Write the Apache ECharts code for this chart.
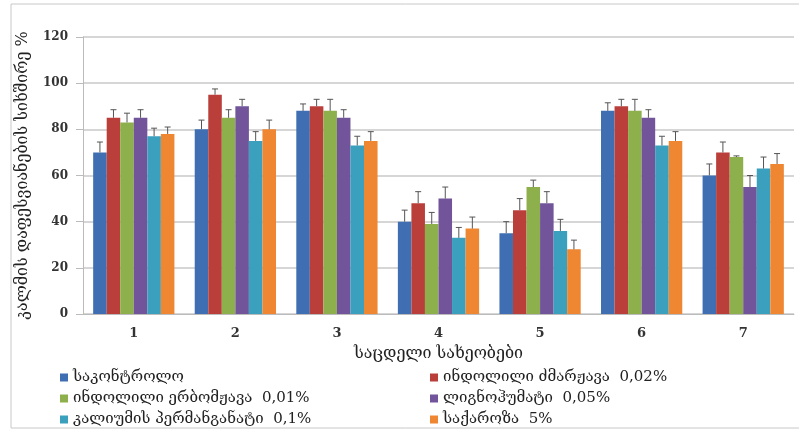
<!DOCTYPE html>
<html><head><meta charset="utf-8">
<script src="https://cdn.jsdelivr.net/npm/echarts@6/dist/echarts.min.js"></script>
<style>html,body{margin:0;padding:0;background:#fff}#c{width:799px;height:432px}</style>
</head><body><div id="c"></div>
<script>
const categories = ['1','2','3','4','5','6','7'];
const seriesNames = [
  'საკონტროლო',
  'ინდოლილი ძმარჟავა  0,02%',
  'ინდოლილი ერბომჟავა  0,01%',
  'ლიგნოჰუმატი  0,05%',
  'კალიუმის პერმანგანატი  0,1%',
  'საქაროზა  5%'
];
const control   = [70, 80, 88, 40, 35, 88, 60];
const iaa       = [85, 95, 90, 48, 45, 90, 70];
const iba       = [83, 85, 88, 39, 55, 88, 68];
const ligno     = [85, 90, 85, 50, 48, 85, 55];
const kmno4     = [77, 75, 73, 33, 36, 73, 63];
const sucrose   = [78, 80, 75, 37, 28, 75, 65];
const errControl = [4.5, 4, 3, 5, 5, 3.5, 5];
const errIaa     = [3.5, 2.5, 3, 5, 5, 3, 4.5];
const errIba     = [4, 3.5, 5, 5, 3, 5, 0.5];
const errLigno   = [3.5, 3, 3.5, 5, 5, 3.5, 5];
const errKmno4   = [3.5, 4, 4, 4.5, 5, 4, 5];
const errSucrose = [3, 4, 4, 5, 4, 4, 4.5];
const yTicks = [0, 20, 40, 60, 80, 100, 120];
const yTitle = 'კალმის დაფესვიანების სიხშირე %';
const xTitle = 'საცდელი სახეობები';

const values = [control, iaa, iba, ligno, kmno4, sucrose];
const errors = [errControl, errIaa, errIba, errLigno, errKmno4, errSucrose];
const colors = ['#3F6FB2', '#BA3F3B', '#8DB04C', '#71549A', '#3AA0BE', '#EE8632'];
const catGap = 0.2;
const gfont = 'DejaVu Serif';

const chart = echarts.init(document.getElementById('c'));
const errData = [];
for (let s = 0; s < values.length; s++) {
  for (let i = 0; i < categories.length; i++) {
    errData.push([i, values[s][i], values[s][i] + errors[s][i], s]);
  }
}
const series = values.map((v, s) => ({
  name: seriesNames[s], type: 'bar', data: v,
  barGap: '0%', barCategoryGap: (catGap * 100) + '%',
  itemStyle: { color: colors[s] }
}));
series.push({
  type: 'custom', name: 'err', silent: true, z: 10,
  data: errData,
  renderItem: function (params, api) {
    const ci = api.value(0), top = api.value(2), base = api.value(1), s = api.value(3);
    const band = api.size([1, 0])[0];
    const gw = band * (1 - catGap);
    const bw = gw / values.length;
    const c = api.coord([ci, base]);
    const x = c[0] - gw / 2 + (s + 0.5) * bw;
    const yTop = api.coord([ci, top])[1];
    const cap = 3;
    const st = { stroke: '#555', lineWidth: 1 };
    return { type: 'group', children: [
      { type: 'line', shape: { x1: x, y1: c[1], x2: x, y2: yTop }, style: st },
      { type: 'line', shape: { x1: x - cap, y1: yTop, x2: x + cap, y2: yTop }, style: st }
    ]};
  },
  encode: { x: 0, y: 2 }
});

const legendPos = [[60, 370], [430, 370], [60, 391], [430, 391], [60, 412], [430, 412]];
const legends = seriesNames.map((n, i) => ({
  data: [n], left: legendPos[i][0], top: legendPos[i][1], padding: 0,
  itemWidth: 8, itemHeight: 8, icon: 'rect', itemGap: 0,
  textStyle: { fontSize: 15, color: '#222', fontFamily: gfont, padding: [0, 0, 0, 0] }
}));

chart.setOption({
  animation: false,
  graphic: [{ type: 'rect', shape: { x: 11, y: 4, width: 800, height: 424 },
    style: { fill: 'none', stroke: '#c8c8c8', lineWidth: 1 }, silent: true }],
  grid: { left: 83, right: 5, top: 37, bottom: 118 },
  xAxis: {
    type: 'category', data: categories,
    axisLine: { lineStyle: { color: '#bbb' } },
    axisTick: { show: false },
    axisLabel: { color: '#333', fontWeight: 'bold', fontSize: 13, margin: 13, fontFamily: 'DejaVu Serif' },
    name: xTitle, nameLocation: 'middle', nameGap: 32,
    nameTextStyle: { fontSize: 16, color: '#222', fontFamily: gfont }
  },
  yAxis: {
    type: 'value', min: 0, max: 120, interval: 20,
    axisLine: { show: true, lineStyle: { color: '#bbb' } },
    axisTick: { show: true, length: 7, lineStyle: { color: '#bbb' } },
    splitLine: { lineStyle: { color: '#c8c8c8', width: 1.5 } },
    axisLabel: { color: '#333', fontWeight: 'bold', fontSize: 12, margin: 15, fontFamily: 'DejaVu Serif',
      formatter: function (v) { return yTicks.indexOf(v) >= 0 ? String(v) : ''; } },
    name: yTitle, nameLocation: 'middle', nameGap: 52, nameRotate: 90,
    nameTextStyle: { fontSize: 16, color: '#222', fontFamily: gfont }
  },
  legend: legends,
  series: series
});
</script></body></html>
